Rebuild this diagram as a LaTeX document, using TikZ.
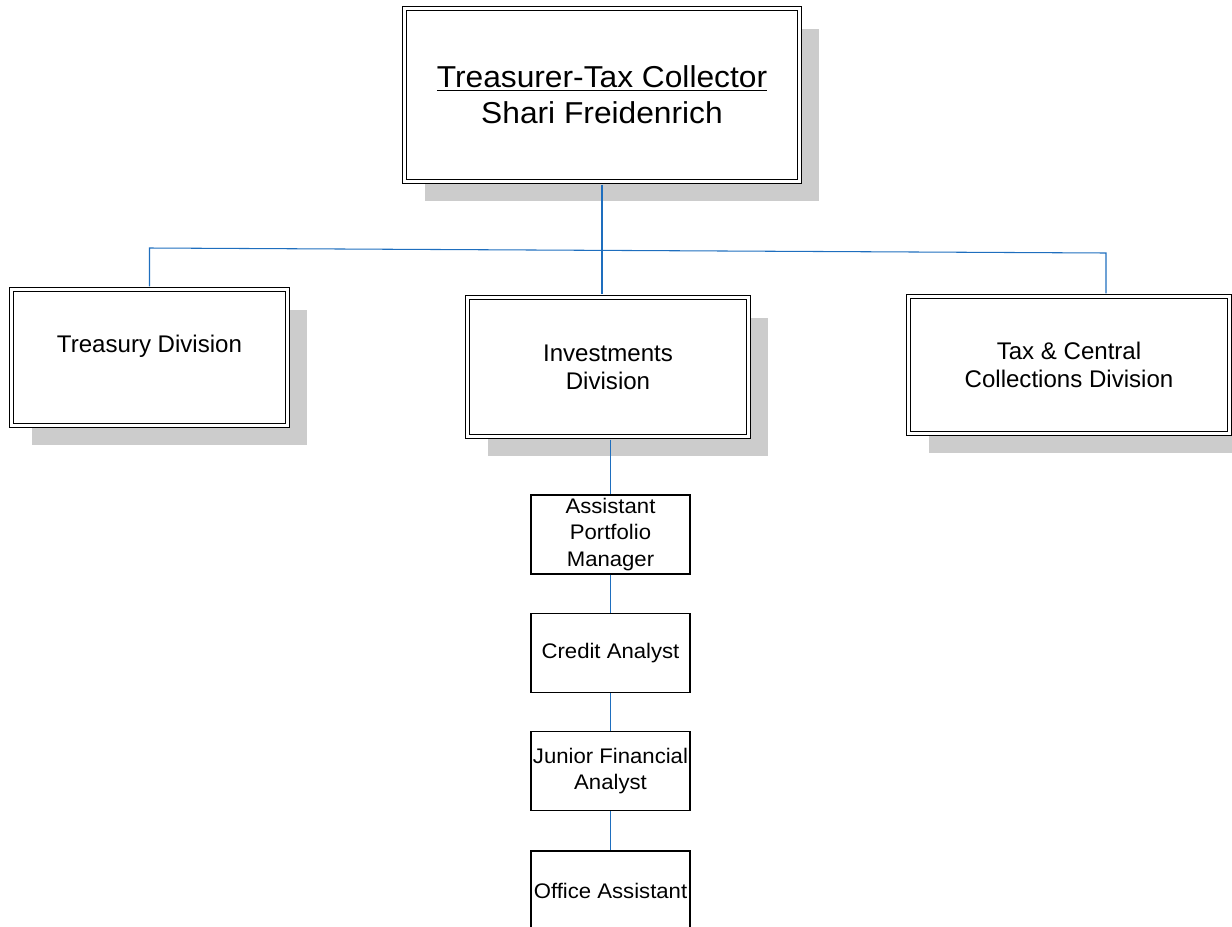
\documentclass[tikz,border=0pt]{standalone}
\usepackage{fontspec}
\setmainfont{Liberation Sans}
\newfontfamily\widesans[FakeStretch=1.05]{Liberation Sans}
\usetikzlibrary{shadows}
\definecolor{linkblue}{RGB}{30,110,190}
\definecolor{shadowgray}{RGB}{204,204,204}
\tikzset{
    divbox/.style={draw=black, double=white, line width=0.7pt, double distance=1.4pt,
        fill=white, align=center, inner sep=0pt,
        drop shadow={shadow xshift=0.4cm, shadow yshift=-0.4cm, fill=shadowgray, draw=none, opacity=1}},
    divfont/.style={font=\fontsize{13.7}{15.9}\selectfont},
    staffbox/.style={draw=black, line width=0.6pt, fill=white, align=center, inner sep=0pt,
        minimum width=3.18cm, minimum height=1.58cm, font=\widesans\fontsize{12}{15}\selectfont},
    link/.style={draw=linkblue, line width=0.6pt}
}

\begin{document}
\begin{tikzpicture}[x=0.02cm,y=-0.02cm]
\useasboundingbox (0,0) rectangle (1232,927);
% head
\node[divbox, minimum width=7.9cm, minimum height=3.46cm, font=\widesans\fontsize{17.2}{20.4}\selectfont] (ttc) at (602,95) {\underline{Treasurer-Tax Collector}\\Shari Freidenrich};
% divisions
\node[divbox, divfont, minimum width=5.52cm, minimum height=2.72cm] (treas) at (149.5,357.5) {Treasury Division\\\mbox{}};
\node[divbox, divfont, minimum width=5.62cm, minimum height=2.78cm] (inv) at (608,367) {Investments\\Division};
\node[divbox, divfont, minimum width=6.42cm, minimum height=2.74cm] (tax) at (1069,365) {Tax \& Central\\Collections Division};
% investments staff
\node[staffbox] (apm) at (610.5,534.5) {Assistant\\Portfolio\\Manager};
\node[staffbox] (credit) at (610.5,653) {Credit Analyst};
\node[staffbox] (jfa) at (610.5,771) {Junior Financial\\Analyst};
\node[staffbox] (office) at (610.5,890.5) {Office Assistant};
% links
\coordinate (busL) at (149.5,248);
\coordinate (busR) at (1106,253);
\draw[link, shorten <=1.4pt, shorten >=1.4pt] (ttc.south) -- (ttc.south |- inv.north);
\draw[link, shorten <=1.4pt, shorten >=1.4pt] (treas.north) -- (busL) -- (busR) -- (busR |- tax.north);
\draw[link, shorten <=1.4pt] (apm.north |- inv.south) -- (apm.north);
\draw[link] (apm.south) -- (credit.north);
\draw[link] (credit.south) -- (jfa.north);
\draw[link] (jfa.south) -- (office.north);
\end{tikzpicture}
\end{document}
